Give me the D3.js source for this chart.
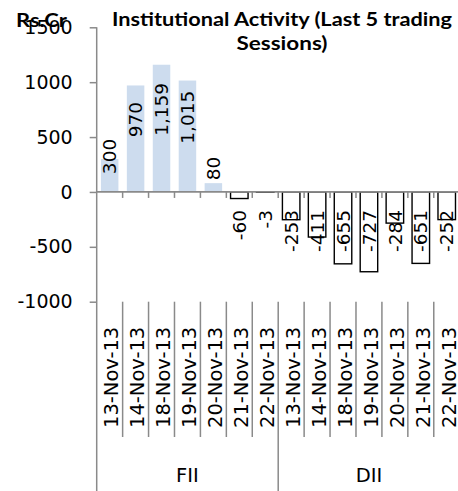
<!DOCTYPE html>
<html>
<head>
<meta charset="utf-8">
<script src="https://cdn.jsdelivr.net/npm/d3@7"></script>
<style>
  body { margin: 0; background: #fff; }
  svg { display: block; }
</style>
</head>
<body>
<script>
// Net institutional flows (Rs. Crore), last 5 trading sessions
const groups = ["FII", "DII"];
const dates = ["13-Nov-13", "14-Nov-13", "18-Nov-13", "19-Nov-13", "20-Nov-13", "21-Nov-13", "22-Nov-13"];
const fiiValues = [300, 970, 1159, 1015, 80, -60, -3];
const diiValues = [-253, -411, -655, -727, -284, -651, -252];
const yTicks = [1500, 1000, 500, 0, -500, -1000];
const titleLines = ["Institutional Activity (Last 5 trading", "Sessions)"];
const unitLabel = "Rs.Cr";

// One row per (group, date) bar
const seriesByGroup = { FII: fiiValues, DII: diiValues };
const rows = [];
groups.forEach(g => {
  dates.forEach((d, i) => rows.push({ key: g + "|" + d, group: g, date: d, value: seriesByGroup[g][i] }));
});

const W = 458, H = 491;
const AXIS = "#8a8a8a";
const BAR = "#cddcee";
const NUM_FONT = "'DejaVu Sans', Verdana, sans-serif";
const TITLE_FONT = "Lato, 'Open Sans', sans-serif";

const svg = d3.select("body").append("svg")
  .attr("width", W).attr("height", H);

const x = d3.scaleBand()
  .domain(rows.map(r => r.key))
  .range([96.7, 459.7])
  .paddingInner(0.325)
  .paddingOuter(0.1625);

const y = d3.scaleLinear()
  .domain([d3.min(yTicks), d3.max(yTicks)])
  .range([301.7, 27.3]);

const step = x.step();
const x0 = x.range()[0];
const y0 = y(0);

// Value axis: ticks and labels
const yAxis = d3.axisLeft(y)
  .tickValues(yTicks)
  .tickSize(7)
  .tickPadding(17)
  .tickFormat(d => String(d));

const yg = svg.append("g")
  .attr("transform", `translate(${x0},0)`)
  .call(yAxis);
yg.select(".domain").remove();
yg.selectAll(".tick line").attr("stroke", AXIS).attr("stroke-width", 1.5);
yg.selectAll(".tick text")
  .attr("fill", "#000")
  .style("font-family", NUM_FONT)
  .style("font-size", "19px");

// Vertical axis line running down through the category label area
svg.append("line")
  .attr("x1", x0).attr("x2", x0)
  .attr("y1", y(d3.max(yTicks))).attr("y2", H)
  .attr("stroke", AXIS).attr("stroke-width", 1.5);

// Bars
const isPos = d => d.value >= 0;
svg.append("g").selectAll("rect")
  .data(rows)
  .join("rect")
  .attr("x", d => x(d.key))
  .attr("width", x.bandwidth())
  .attr("y", d => Math.min(y(d.value), y0))
  .attr("height", d => Math.abs(y(d.value) - y0))
  .attr("fill", d => isPos(d) ? BAR : "#fff")
  .attr("stroke", d => isPos(d) ? "none" : "#000")
  .attr("stroke-width", 1.4);

// Zero line with category tick marks
svg.append("line")
  .attr("x1", x0).attr("x2", x.range()[1])
  .attr("y1", y0).attr("y2", y0)
  .attr("stroke", AXIS).attr("stroke-width", 1.8);

const boundaries = d3.range(1, rows.length + 1).map(i => x0 + i * step);
svg.append("g").selectAll("line")
  .data(boundaries)
  .join("line")
  .attr("x1", d => d).attr("x2", d => d)
  .attr("y1", y0).attr("y2", y0 + 6)
  .attr("stroke", AXIS).attr("stroke-width", 1.5);

// Data labels, rotated
svg.append("g").selectAll("text")
  .data(rows)
  .join("text")
  .attr("transform", d => {
    const cx = x(d.key) + x.bandwidth() / 2;
    const cy = isPos(d) ? y(d.value / 2) - 19 : y0 + 18;
    return `translate(${cx},${cy}) rotate(-90)`;
  })
  .attr("text-anchor", d => isPos(d) ? "middle" : "end")
  .attr("dy", "0.36em")
  .style("font-family", NUM_FONT)
  .style("font-size", "18.5px")
  .attr("fill", "#000")
  .text(d => d3.format(",")(d.value).replace("−", "-"));

// Multi-level category axis below the plot
const labelTop = y(d3.min(yTicks));
const dateBottom = 437;
const groupStarts = new Set(groups.map((g, gi) => gi * dates.length));
svg.append("g").selectAll("line")
  .data(boundaries.map((b, i) => ({ b, full: groupStarts.has(i + 1) })))
  .join("line")
  .attr("x1", d => d.b).attr("x2", d => d.b)
  .attr("y1", labelTop)
  .attr("y2", d => d.full ? H : dateBottom)
  .attr("stroke", AXIS).attr("stroke-width", 1.5);

svg.append("g").selectAll("text")
  .data(rows)
  .join("text")
  .attr("transform", d => `translate(${x(d.key) + x.bandwidth() / 2},428) rotate(-90)`)
  .attr("text-anchor", "start")
  .attr("dy", "0.45em")
  .style("font-family", NUM_FONT)
  .style("font-size", "19.5px")
  .attr("fill", "#000")
  .text(d => d.date);

svg.append("g").selectAll("text")
  .data(groups)
  .join("text")
  .attr("x", (g, gi) => x0 + (gi + 0.5) * dates.length * step)
  .attr("y", 481.7)
  .attr("text-anchor", "middle")
  .style("font-family", NUM_FONT)
  .style("font-size", "19.5px")
  .attr("fill", "#000")
  .text(g => g);

// Title and unit label
const title = svg.append("g")
  .style("font-family", TITLE_FONT)
  .style("font-weight", "bold")
  .style("font-size", "19.5px")
  .attr("fill", "#000");
title.selectAll("text")
  .data(titleLines)
  .join("text")
  .attr("x", 282)
  .attr("y", (d, i) => 26 + i * 24)
  .attr("text-anchor", "middle")
  .attr("textLength", (d, i) => i === 0 ? 340 : 91)
  .attr("lengthAdjust", "spacingAndGlyphs")
  .text(d => d);

svg.append("text")
  .attr("x", 16).attr("y", 27)
  .style("font-family", TITLE_FONT)
  .style("font-weight", "bold")
  .style("font-size", "19.5px")
  .attr("textLength", 51)
  .attr("lengthAdjust", "spacingAndGlyphs")
  .attr("fill", "#000")
  .text(unitLabel);
</script>
</body>
</html>
